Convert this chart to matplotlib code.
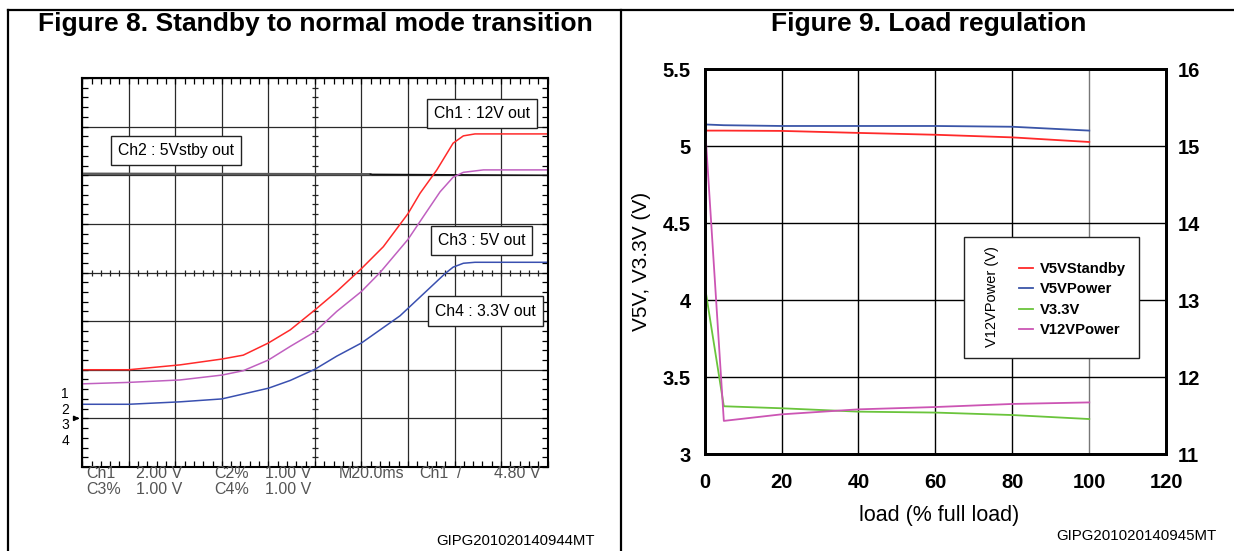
import numpy as np
import matplotlib.pyplot as plt
from matplotlib.patches import Rectangle
from matplotlib.lines import Line2D

plt.rcParams['font.family'] = ['Liberation Sans', 'DejaVu Sans']

W, H = 1234, 551


def fx(x):
    return x / W


def fy(y):
    return 1 - y / H


# ----------------------------------------------------------------------------- #
#                 FIGURE 8 - scope traces (x, y in graticule divisions)
# ----------------------------------------------------------------------------- #
ch1_x = [0, 1, 2.1, 3, 3.46, 4, 4.47, 5, 5.47, 6, 6.47, 7, 7.26, 7.62, 7.97, 8.19, 8.44, 10]
ch1_y = [2.0, 2.0, 2.1, 2.22, 2.3, 2.55, 2.82, 3.23, 3.61, 4.08, 4.53, 5.21, 5.63, 6.11,
         6.66, 6.81, 6.85, 6.85]

ch2_x = [0, 6.19, 10]
ch2_y = [6.03, 6.02, 6.0]

ch3_x = [0, 1, 2.1, 3, 3.46, 4, 4.47, 5, 5.47, 6, 6.4, 7, 7.33, 7.69, 7.97, 8.19, 8.62, 10]
ch3_y = [1.71, 1.74, 1.79, 1.89, 1.98, 2.2, 2.48, 2.78, 3.2, 3.61, 4.0, 4.68, 5.15, 5.66,
         5.96, 6.06, 6.11, 6.11]

ch4_x = [0, 1, 2.1, 3, 4, 4.47, 5, 5.47, 6, 6.83, 7.8, 7.97, 8.19, 8.44, 10]
ch4_y = [1.29, 1.29, 1.34, 1.40, 1.62, 1.78, 2.01, 2.28, 2.55, 3.11, 3.98, 4.11, 4.19,
         4.21, 4.21]

scope_row1 = [("Ch1", 86), ("2.00 V", 135.6), ("C2%", 214.7), ("1.00 V", 265),
              ("M20.0ms", 339), ("Ch1", 419), ("/", 456.7), ("4.80 V", 494.3)]
scope_row2 = [("C3%", 86), ("1.00 V", 135.6), ("C4%", 214.7), ("1.00 V", 265)]

# ----------------------------------------------------------------------------- #
#                 FIGURE 9 - load regulation
# ----------------------------------------------------------------------------- #
load = [0, 5, 20, 40, 60, 80, 100]
v5_standby = [5.10, 5.10, 5.098, 5.085, 5.073, 5.056, 5.026]
v5_power = [5.14, 5.135, 5.13, 5.13, 5.13, 5.125, 5.10]
v3_3 = [4.10, 3.31, 3.297, 3.275, 3.269, 3.253, 3.227]
v12_power = [15.34, 11.43, 11.515, 11.58, 11.61, 11.65, 11.67]

left_ticks = [3, 3.5, 4, 4.5, 5, 5.5]
left_labels = ["3", "3.5", "4", "4.5", "5", "5.5"]
right_ticks = [11, 12, 13, 14, 15, 16]
x_ticks = [0, 20, 40, 60, 80, 100, 120]

fig = plt.figure(figsize=(W / 100, H / 100), dpi=100)

# --------------------- marcos --------------------- #
for xs, ys in [([8, 8], [10, 551]), ([8, 1234], [10, 10]), ([621, 621], [10, 551])]:
    fig.add_artist(Line2D([fx(v) for v in xs], [fy(v) for v in ys],
                          transform=fig.transFigure, color="k", lw=1.6))

fig.text(fx(315), fy(24), "Figure 8. Standby to normal mode transition",
         ha="center", va="center", fontsize=19, fontweight="bold")
fig.text(fx(929), fy(24), "Figure 9. Load regulation",
         ha="center", va="center", fontsize=19, fontweight="bold")

# --------------------- osciloscopio --------------------- #
ax1 = fig.add_axes([fx(82.2), fy(467), (547.6 - 82.2) / W, (467 - 78) / H])
ax1.set_xlim(0, 10)
ax1.set_ylim(0, 8)
ax1.set_xticks(range(11))
ax1.set_yticks(range(9))
ax1.set_xticks(np.arange(0, 10.01, 0.2), minor=True)
ax1.set_yticks(np.arange(0, 8.01, 0.2), minor=True)
ax1.tick_params(which="both", direction="in", length=4, width=0.9,
                top=True, right=True, labelbottom=False, labelleft=False)
ax1.grid(True, which="major", color="#2a2a2a", lw=0.9)
for s in ax1.spines.values():
    s.set_linewidth(1.5)

minor_x = np.arange(0, 10.01, 0.2)
minor_y = np.arange(0, 8.01, 0.2)
ax1.plot(minor_x, np.full_like(minor_x, 4), ls="none", marker="|", ms=5,
         mew=0.9, color="#222222")
ax1.plot(np.full_like(minor_y, 5), minor_y, ls="none", marker="_", ms=5,
         mew=0.9, color="#222222")

# Ch2: tramo grueso gris y luego fino negro
ax1.plot(ch2_x[:2], ch2_y[:2], color="#5a5a5a", lw=1.8)
ax1.plot(ch2_x[1:], ch2_y[1:], color="#111111", lw=1.0)
ax1.plot(ch4_x, ch4_y, color="#3a50b0", lw=1.1)
ax1.plot(ch3_x, ch3_y, color="#c060c0", lw=1.1)
ax1.plot(ch1_x, ch1_y, color="#ff2a2a", lw=1.1)

box = dict(boxstyle="square,pad=0.45", fc="white", ec="#222222", lw=1)
fig.text(fx(481.6), fy(113.5), "Ch1 : 12V out", ha="center", va="center",
         fontsize=11.3, bbox=box)
fig.text(fx(175.8), fy(150.5), "Ch2 : 5Vstby out", ha="center", va="center",
         fontsize=11.3, bbox=box)
fig.text(fx(481.6), fy(240.5), "Ch3 : 5V out", ha="center", va="center",
         fontsize=11.3, bbox=box)
fig.text(fx(485.8), fy(311), "Ch4 : 3.3V out", ha="center", va="center",
         fontsize=11.3, bbox=box)

for i, yy in enumerate([394, 410, 425, 441]):
    fig.text(fx(65), fy(yy), str(i + 1), ha="center", va="center", fontsize=10)
ax1.annotate("", xy=(0, 1), xytext=(-0.17, 1), annotation_clip=False,
             arrowprops=dict(arrowstyle="-|>", color="k", lw=1.2, mutation_scale=7))

for txt, xx in scope_row1:
    fig.text(fx(xx), fy(478.5), txt, ha="left", va="baseline", fontsize=11.5,
             color="#555555")
for txt, xx in scope_row2:
    fig.text(fx(xx), fy(493.5), txt, ha="left", va="baseline", fontsize=11.5,
             color="#555555")

fig.text(fx(515.6), fy(541), "GIPG201020140944MT", ha="center", va="center",
         fontsize=10.7)

# --------------------- regulacion de carga --------------------- #
ax2 = fig.add_axes([fx(704.6), fy(454), (1166.2 - 704.6) / W, (454 - 69) / H])
ax2.set_xlim(0, 120)
ax2.set_ylim(3, 5.5)
ax2.set_xticks(x_ticks)
ax2.set_xticklabels([str(v) for v in x_ticks], fontweight="bold", fontsize=14.5)
ax2.set_yticks(left_ticks)
ax2.set_yticklabels(left_labels, fontweight="bold", fontsize=14.5)
ax2.tick_params(axis="x", length=0, pad=14)
ax2.tick_params(axis="y", length=0, pad=10)
ax2.grid(True, color="k", lw=1)
ax2.get_xgridlines()[5].set_color("#777777")
for s in ax2.spines.values():
    s.set_linewidth(2)

ax2.plot(load, v5_power, color="#3a55a8", lw=1.3)
ax2.plot(load, v5_standby, color="#ff2a2a", lw=1.3)
ax2.plot(load, v3_3, color="#6ac43c", lw=1.3)

ax3 = ax2.twinx()
ax3.set_ylim(11, 16)
ax3.set_yticks(right_ticks)
ax3.set_yticklabels([str(v) for v in right_ticks], fontweight="bold", fontsize=14.5)
ax3.tick_params(axis="y", length=0, pad=8.5)
for s in ax3.spines.values():
    s.set_linewidth(2)
ax3.plot(load, v12_power, color="#cc55b4", lw=1.3)

fig.text(fx(641.5), fy(261), "V5V, V3.3V (V)", rotation=90, ha="center",
         va="center", fontsize=15)
fig.text(fx(939), fy(516), "load (% full load)", ha="center", va="center",
         fontsize=15.5)

fig.add_artist(Rectangle((fx(963.8), fy(358)), (1138.8 - 963.8) / W, (358 - 237) / H,
                         transform=fig.transFigure, fc="white", ec="#222222", lw=1))
fig.text(fx(992), fy(297), "V12VPower (V)", rotation=90, ha="center",
         va="center", fontsize=10.5)

handles = [Line2D([], [], color="#ff2a2a", lw=1.3),
           Line2D([], [], color="#3a55a8", lw=1.3),
           Line2D([], [], color="#6ac43c", lw=1.3),
           Line2D([], [], color="#cc55b4", lw=1.3)]
fig.legend(handles, ["V5VStandby", "V5VPower", "V3.3V", "V12VPower"],
           loc="upper left", bbox_to_anchor=(fx(1018.6), fy(262)), frameon=False,
           prop=dict(weight="bold", size=10.6), handlelength=1.0,
           handletextpad=0.45, labelspacing=0.44, borderpad=0,
           borderaxespad=0)

fig.text(fx(1136), fy(536), "GIPG201020140945MT", ha="center", va="center",
         fontsize=10.8)

fig.savefig("out.png", dpi=100)
